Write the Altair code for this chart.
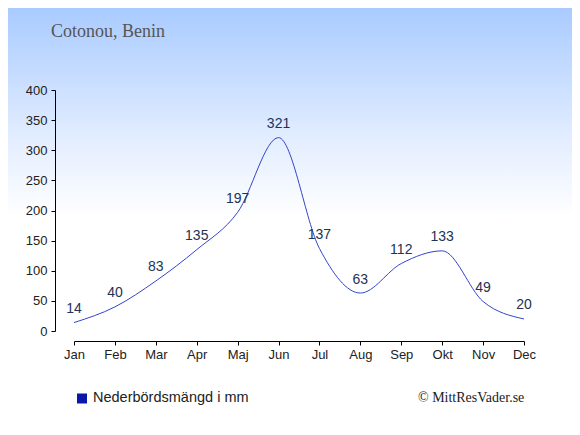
import altair as alt
import pandas as pd

months = ["Jan", "Feb", "Mar", "Apr", "Maj", "Jun", "Jul", "Aug", "Sep", "Okt", "Nov", "Dec"]
rain = [14, 40, 83, 135, 197, 321, 137, 63, 112, 133, 49, 20]
title_text = "Cotonou, Benin"
legend_text = "Nederbördsmängd i mm"
credit_text = "© MittResVader.se"

df = pd.DataFrame({"month": months, "rain": rain})
one = pd.DataFrame({"a": [0]})

W, H = 450, 241
PL, PT, PR, PB = 66, 82, 48, 96

bg = alt.Chart(one).mark_rect(
    fill=alt.Gradient(
        gradient="linear",
        stops=[
            alt.GradientStop(color="#a9cbff", offset=0),
            alt.GradientStop(color="#e4eeff", offset=0.32),
            alt.GradientStop(color="#ffffff", offset=0.50),
            alt.GradientStop(color="#ffffff", offset=1),
        ],
        x1=0, x2=0, y1=0, y2=1,
    )
).encode(
    x=alt.value(-PL), x2=alt.value(W + PR),
    y=alt.value(-PT), y2=alt.value(H + PB),
)

axis_style = dict(
    labelFontSize=13, labelFont="Liberation Sans", labelColor="#222222",
    domainColor="#000000", tickColor="#000000", tickSize=4, grid=False,
    zindex=1, labelOverlap=False, title=None,
)

xenc = alt.X(
    "month:N", sort=months,
    scale=alt.Scale(type="point", padding=0),
    axis=alt.Axis(labelAngle=0, offset=10, labelPadding=3, **axis_style),
)
yenc = alt.Y(
    "rain:Q",
    scale=alt.Scale(domain=[0, 400], nice=False),
    axis=alt.Axis(values=list(range(0, 401, 50)), offset=19, labelPadding=4, **axis_style),
)

base = alt.Chart(df).encode(x=xenc, y=yenc)

line = base.mark_line(interpolate="monotone", color="#3344cc", strokeWidth=1)

labels = base.mark_text(
    dy=-13.5, fontSize=14, color="#223355", font="Liberation Sans", baseline="middle"
).encode(text="rain:Q")

title = alt.Chart(pd.DataFrame({"t": [title_text]})).mark_text(
    align="left", baseline="alphabetic", font="Liberation Serif", fontSize=18, color="#555555"
).encode(x=alt.value(-23), y=alt.value(-53), text="t:N")

legend_sq = alt.Chart(one).mark_square(size=100, color="#0a18aa", opacity=1).encode(
    x=alt.value(8), y=alt.value(308.5)
)
legend_tx = alt.Chart(pd.DataFrame({"t": [legend_text]})).mark_text(
    align="left", baseline="middle", font="Liberation Sans", fontSize=14.5, color="#222222"
).encode(x=alt.value(19), y=alt.value(308), text="t:N")

credit = alt.Chart(pd.DataFrame({"t": [credit_text]})).mark_text(
    align="left", baseline="middle", font="Liberation Serif", fontSize=14, color="#222222"
).encode(x=alt.value(344), y=alt.value(307.5), text="t:N")

chart = alt.layer(bg, line, labels, title, legend_sq, legend_tx, credit).properties(
    width=W, height=H,
    padding={"left": PL, "top": PT, "right": PR, "bottom": PB},
    autosize=alt.AutoSizeParams(type="none"),
).configure_view(stroke=None)

chart.save("out.html", embed_options={"renderer": "svg", "actions": False})
